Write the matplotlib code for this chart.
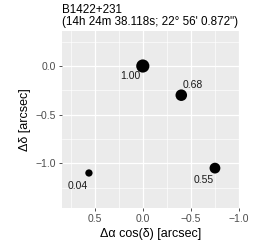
import matplotlib
matplotlib.use("Agg")
import matplotlib.pyplot as plt
from matplotlib.ticker import MultipleLocator

plt.rcParams['font.family'] = ['Liberation Sans', 'DejaVu Sans']

# image positions relative to reference image (arcsec)
dra = [0.0, -0.40, -0.75, 0.56]
ddec = [0.0, -0.30, -1.05, -1.10]
flux = [1.00, 0.68, 0.55, 0.04]
labels = ["1.00", "0.68", "0.55", "0.04"]
# label offsets
lab_dx = [0.13, -0.12, 0.12, 0.12]
lab_dy = [-0.10, 0.10, -0.12, -0.13]

fig = plt.figure(figsize=(2.58, 2.44), dpi=100)
ax = fig.add_axes([62 / 258, 1 - 208 / 244, 177 / 258, 177 / 244])
ax.set_facecolor("#EBEBEB")

sizes = [25 + 65 * f for f in flux]
ax.scatter(dra, ddec, s=sizes, color="black", zorder=3, linewidths=0)
for x, y, t, ox, oy in zip(dra, ddec, labels, lab_dx, lab_dy):
    ax.text(x + ox, y + oy, t, ha="center", va="center", fontsize=7.5, color="#1a1a1a", zorder=4)

ax.set_xlim(0.84, -1.0)
ax.set_ylim(-1.46, 0.36)
ax.xaxis.set_minor_locator(MultipleLocator(0.25))
ax.yaxis.set_minor_locator(MultipleLocator(0.25))
ax.set_xticks([0.5, 0.0, -0.5, -1.0])
ax.set_xticklabels(["0.5", "0.0", "\u22120.5", "\u22121.0"])
ax.set_yticks([0.0, -0.5, -1.0])
ax.set_yticklabels(["0.0", "\u22120.5", "\u22121.0"])
ax.grid(which="major", color="white", linewidth=0.9)
ax.grid(which="minor", color="white", linewidth=0.45)
ax.set_axisbelow(True)
for s in ax.spines.values():
    s.set_visible(False)
ax.tick_params(which="major", length=2.5, width=0.6, color="#333333", labelsize=7.5, labelcolor="#4D4D4D", pad=2)
ax.tick_params(which="minor", length=0)

ax.set_xlabel("\u0394\u03b1 cos(\u03b4) [arcsec]", fontsize=9, labelpad=3)
ax.set_ylabel("\u0394\u03b4 [arcsec]", fontsize=9, labelpad=3)
ax.set_title("B1422+231\n(14h 24m 38.118s; 22\u00b0 56' 0.872\")", fontsize=8.4, loc="left",
             pad=4, linespacing=1.0)

fig.savefig("out.png", dpi=100)
